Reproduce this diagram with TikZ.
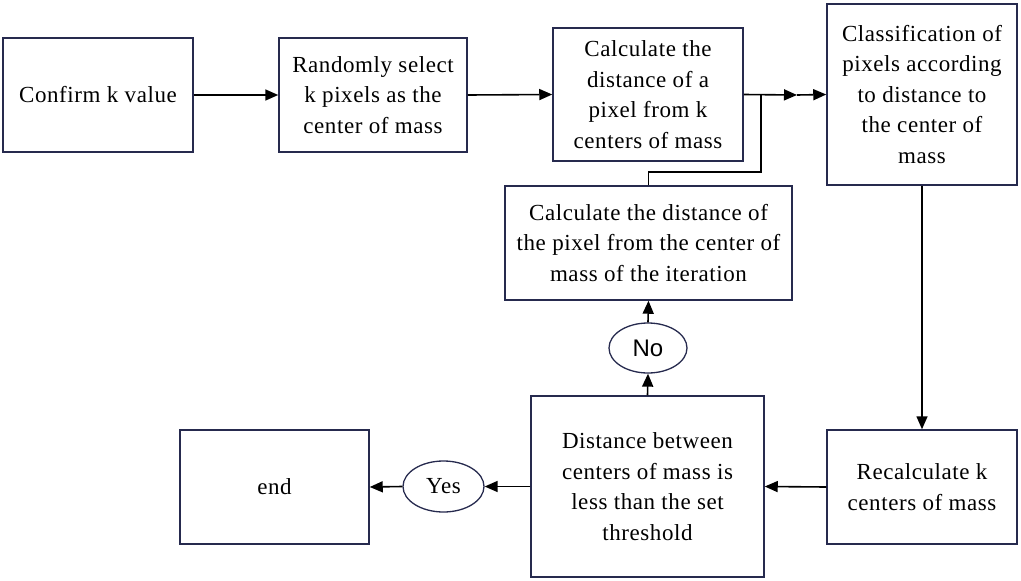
\documentclass[tikz,border=0pt]{standalone}
\usepackage{fontspec}
\setmainfont{Liberation Serif}[LetterSpace=2.5]
\newfontfamily\nofont{Liberation Sans}
\usetikzlibrary{arrows.meta,shapes.geometric}
\definecolor{navy}{RGB}{38,42,78}
\begin{document}
\begin{tikzpicture}[x=1pt,y=-1pt,
  box/.style={draw=navy,line width=1.5pt,rectangle,inner sep=0pt,align=center,
    font=\rmfamily\fontsize{23}{30.5}\selectfont},
  oval/.style={draw=navy,line width=1.3pt,ellipse,inner sep=0pt},
  conn/.style={line width=1.6pt,black},
  arr/.style={conn,-{Triangle[length=13pt,width=11pt]}}]
\useasboundingbox (0,0) rectangle (1021,581);
\node[box,minimum width=190pt,minimum height=114pt] (b1) at (98,95) {Confirm k value};
\node[box,minimum width=188pt,minimum height=114pt] (b2) at (373,95) {Randomly select\\k pixels as the\\center of mass};
\node[box,minimum width=190pt,minimum height=133pt] (b3) at (648,94.5) {Calculate the\\distance of a\\pixel from k\\centers of mass};
\node[box,minimum width=190pt,minimum height=181pt] (b4) at (922,94.5) {Classification of\\pixels according\\to distance to\\the center of\\mass};
\node[box,minimum width=287pt,minimum height=114pt] (b5) at (648.5,243) {Calculate the distance of\\the pixel from the center of\\mass of the iteration};
\node[oval,minimum width=78pt,minimum height=50pt,font=\nofont\fontsize{24}{26}\selectfont] (no) at (648,348) {No};
\node[box,minimum width=233pt,minimum height=181pt] (b6) at (647.5,486.5) {Distance between\\centers of mass is\\less than the set\\threshold};
\node[box,minimum width=190pt,minimum height=114pt] (b7) at (922,487) {Recalculate k\\centers of mass};
\node[oval,minimum width=81pt,minimum height=51pt,font=\rmfamily\fontsize{23}{26}\selectfont] (yes) at (443.5,486.5) {Yes};
\node[box,minimum width=189pt,minimum height=114pt] (end) at (274.5,487) {end};
\coordinate (j) at (761,95);
\coordinate (m) at (797,95);
\coordinate (c1) at (761,172);
\draw[arr] (b1.east) -- (b2.west);
\draw[arr] (b2.east) -- (b3.west);
\draw[arr] (b3.east) -- (m);
\draw[arr] (m) -- (b4.west);
\draw[conn] (b5.north) |- (c1) -- (j);
\draw[arr] (b4.south) -- (b7.north);
\draw[arr] (b7.west) -- (b6.east);
\draw[arr] (b6.west) -- (yes.east);
\draw[arr] (yes.west) -- (end.east);
\draw[arr] (b6.north) -- (no.south);
\draw[arr] (no.north) -- (b5.south);
\end{tikzpicture}
\end{document}
